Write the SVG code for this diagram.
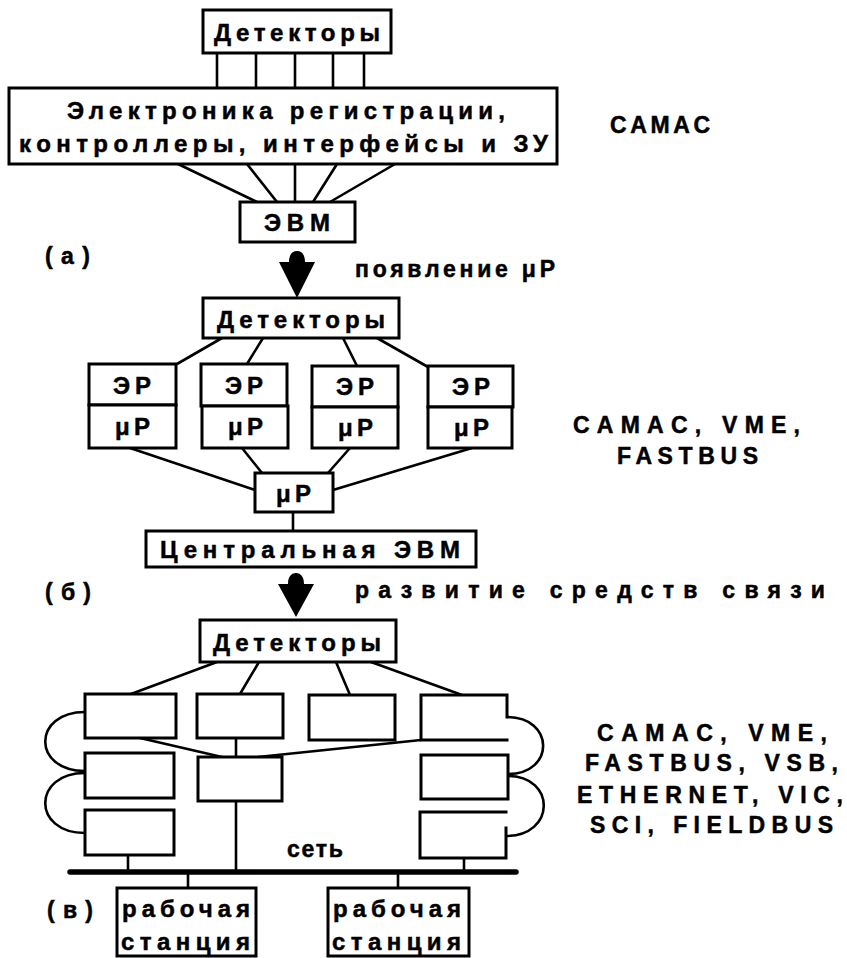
<svg xmlns="http://www.w3.org/2000/svg" width="847" height="958" viewBox="0 0 847 958">
  <style>
    .box { fill: #fff; stroke: #000; stroke-width: 3; }
    .edge { fill: none; stroke: #000; stroke-width: 3; stroke-linecap: square; }
    .ln { fill: none; stroke: #000; stroke-width: 2.6; }
    .t { font-family: "Liberation Sans", Arial, sans-serif; font-weight: bold; font-size: 24px; fill: #000; stroke: #000; stroke-width: 0.5; }
    .lab { font-family: "Liberation Sans", Arial, sans-serif; font-weight: bold; font-size: 23px; fill: #000; stroke: #000; stroke-width: 0.5; }
    .arrow { fill: #000; stroke: none; }
    .bus { fill: none; stroke: #000; stroke-width: 5.5; stroke-linecap: round; }
  </style>
  <rect width="847" height="958" fill="#fff"/>

  <!-- connectors -->
  <g id="connectors">
    <!-- (а) detectors to registration electronics -->
    <path class="ln" d="M217,53 V88 M256,53 V88 M295,53 V88 M333,53 V88 M364,53 V88"/>
    <!-- (а) electronics fan-in to computer -->
    <path class="ln" d="M178,164 L257,202 M247,164 L277,202 M295,164 L295,202 M337,164 L313,202 M395,164 L330,202"/>
    <!-- (б) detectors to ЭР modules -->
    <path class="ln" d="M222,338 L177,364 M263,338 L247,364 M343,338 L357,366 M377,338 L428,367"/>
    <!-- (б) μP modules to concentrator -->
    <path class="ln" d="M130,448 L255,490 M242,448 L262,473 M350,448 L328,473 M472,448 L333,490"/>
    <path class="ln" d="M293,512 V531"/>
    <!-- (в) detectors to front-end crates -->
    <path class="ln" d="M217,662 L131,694 M259,662 L240,694 M336,662 L350,695 M371,662 L462,695"/>
    <!-- (в) crates to central crate -->
    <path class="ln" d="M140,738 L222,757 M236,738 V757 M258,757 L421,740"/>
    <!-- (в) inter-crate links -->
    <path class="ln" d="M85,712 C32,712 32,771 85,771"/>
    <path class="ln" d="M85,773 C32,773 32,833 85,833"/>
    <path class="ln" d="M507,717 C555,717 555,774 508,774"/>
    <path class="ln" d="M508,776 C556,776 556,836 506,836"/>
    <!-- (в) network drops -->
    <path class="ln" d="M128,855 V872 M236,801 V872 M464,858 V872 M188,872 V888 M398,872 V888"/>
    <path class="bus" d="M70,872 H516"/>
  </g>

  <!-- arrows between stages -->
  <path class="arrow" d="M297,251 C302,251 305,255 305,262 L315,262 L297,298 L279,262 L289,262 C289,255 292,251 297,251 Z"/>
  <path class="arrow" d="M296,573 C301,573 304,577 304,584 L314,584 L296,617 L278,584 L288,584 C288,577 291,573 296,573 Z"/>

  <!-- (а) -->
  <g id="det-a">
    <rect class="box" x="203" y="10" width="188" height="43"/>
    <text class="t" x="214" y="41" textLength="166" lengthAdjust="spacing">Детекторы</text>
  </g>
  <g id="electronics-a">
    <rect class="box" x="9" y="88" width="548" height="76"/>
    <text class="t" x="67" y="119" textLength="438" lengthAdjust="spacing">Электроника регистрации,</text>
    <text class="t" x="19" y="152" textLength="529" lengthAdjust="spacing">контроллеры, интерфейсы и ЗУ</text>
  </g>
  <g id="computer-a">
    <rect class="box" x="240" y="202" width="115" height="40"/>
    <text class="t" x="264" y="231" textLength="66" lengthAdjust="spacing">ЭВМ</text>
  </g>
  <text class="lab" x="45" y="264" textLength="45" lengthAdjust="spacing">(а)</text>
  <text class="lab" x="355" y="277" textLength="200" lengthAdjust="spacing">появление μP</text>
  <text class="lab" x="610" y="133" textLength="100" lengthAdjust="spacing">CAMAC</text>

  <!-- (б) -->
  <g id="det-b">
    <rect class="box" x="203" y="298" width="196" height="40"/>
    <text class="t" x="217" y="328" textLength="168" lengthAdjust="spacing">Детекторы</text>
  </g>
  <g id="er-1">
    <rect class="box" x="89" y="364" width="87" height="41"/>
    <rect class="box" x="89" y="405" width="87" height="43"/>
    <text class="t" x="113" y="394" textLength="38" lengthAdjust="spacing">ЭР</text>
    <text class="t" x="115" y="435" textLength="35" lengthAdjust="spacing">μP</text>
  </g>
  <g id="er-2">
    <rect class="box" x="201" y="364" width="86" height="42"/>
    <rect class="box" x="202" y="406" width="86" height="42"/>
    <text class="t" x="225" y="394" textLength="38" lengthAdjust="spacing">ЭР</text>
    <text class="t" x="228" y="435" textLength="35" lengthAdjust="spacing">μP</text>
  </g>
  <g id="er-3">
    <rect class="box" x="312" y="366" width="86" height="41"/>
    <rect class="box" x="312" y="407" width="86" height="41"/>
    <text class="t" x="336" y="395" textLength="38" lengthAdjust="spacing">ЭР</text>
    <text class="t" x="338" y="436" textLength="35" lengthAdjust="spacing">μP</text>
  </g>
  <g id="er-4">
    <rect class="box" x="428" y="366" width="85" height="41"/>
    <rect class="box" x="428" y="407" width="84" height="41"/>
    <text class="t" x="452" y="395" textLength="38" lengthAdjust="spacing">ЭР</text>
    <text class="t" x="454" y="436" textLength="35" lengthAdjust="spacing">μP</text>
  </g>
  <g id="mup-b">
    <rect class="box" x="255" y="473" width="78" height="39"/>
    <text class="t" x="276" y="502" textLength="35" lengthAdjust="spacing">μP</text>
  </g>
  <g id="central-b">
    <rect class="box" x="146" y="531" width="330" height="36"/>
    <text class="t" x="160" y="558" textLength="300" lengthAdjust="spacing">Центральная ЭВМ</text>
  </g>
  <text class="lab" x="45" y="600" textLength="46" lengthAdjust="spacing">(б)</text>
  <text class="lab" x="355" y="598" textLength="470" lengthAdjust="spacing">развитие средств связи</text>
  <text class="lab" x="573" y="433" textLength="227" lengthAdjust="spacing">CAMAC, VME,</text>
  <text class="lab" x="617" y="464" textLength="141" lengthAdjust="spacing">FASTBUS</text>

  <!-- (в) -->
  <g id="det-c">
    <rect class="box" x="200" y="620" width="196" height="42"/>
    <text class="t" x="213" y="651" textLength="168" lengthAdjust="spacing">Детекторы</text>
  </g>
  <g id="crate-l1"><rect class="box" x="85" y="694" width="91" height="44"/></g>
  <g id="crate-l2"><rect class="box" x="85" y="753" width="89" height="45"/></g>
  <g id="crate-l3"><rect class="box" x="85" y="810" width="89" height="45"/></g>
  <g id="crate-2"><rect class="box" x="197" y="694" width="86" height="44"/></g>
  <g id="crate-c"><rect class="box" x="198" y="757" width="84" height="44"/></g>
  <g id="crate-3"><rect class="box" x="309" y="695" width="86" height="45"/></g>
  <g id="crate-r1">
    <path class="edge" d="M507,717 V695 H421 V740 H507"/>
  </g>
  <g id="crate-r2"><rect class="box" x="421" y="755" width="87" height="44"/></g>
  <g id="crate-r3">
    <path class="edge" d="M506,812 H420 V858 H506 V828"/>
  </g>
  <text class="lab" x="287" y="857" textLength="56" lengthAdjust="spacing">сеть</text>
  <g id="ws-1">
    <rect class="box" x="117" y="888" width="139" height="68"/>
    <text class="t" x="122" y="917" textLength="128" lengthAdjust="spacing">рабочая</text>
    <text class="t" x="121" y="950" textLength="129" lengthAdjust="spacing">станция</text>
  </g>
  <g id="ws-2">
    <rect class="box" x="328" y="888" width="141" height="68"/>
    <text class="t" x="333" y="917" textLength="128" lengthAdjust="spacing">рабочая</text>
    <text class="t" x="332" y="950" textLength="129" lengthAdjust="spacing">станция</text>
  </g>
  <text class="lab" x="47" y="918" textLength="46" lengthAdjust="spacing">(в)</text>
  <text class="lab" x="597" y="741" textLength="230" lengthAdjust="spacing">CAMAC, VME,</text>
  <text class="lab" x="585" y="771" textLength="253" lengthAdjust="spacing">FASTBUS, VSB,</text>
  <text class="lab" x="577" y="803" textLength="266" lengthAdjust="spacing">ETHERNET, VIC,</text>
  <text class="lab" x="590" y="833" textLength="243" lengthAdjust="spacing">SCI, FIELDBUS</text>
</svg>
